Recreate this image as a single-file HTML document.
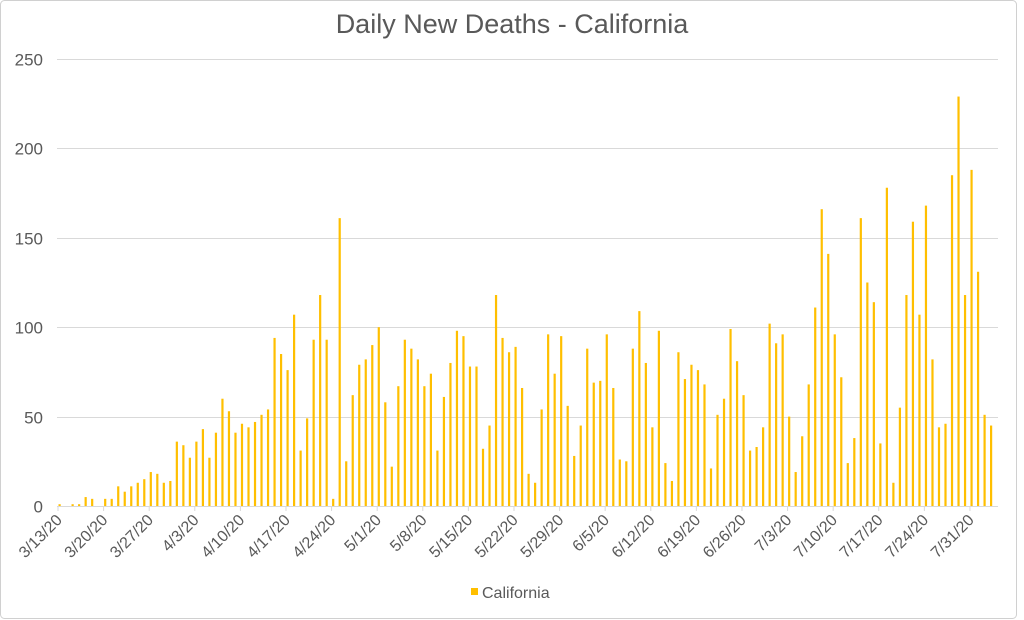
<!DOCTYPE html>
<html><head><meta charset="utf-8"><style>
html,body{margin:0;padding:0;background:#fff;}
svg{display:block;font-family:"Liberation Sans",sans-serif;}
</style></head><body>
<svg id="c" width="1024" height="620" xmlns="http://www.w3.org/2000/svg">
<rect x="0.5" y="0.5" width="1016" height="618" rx="4" fill="#fff" stroke="#d0d0d0"/>
<text x="512" y="33" text-anchor="middle" font-size="27" fill="#595959">Daily New Deaths - California</text>
<g id="grid" stroke="#d9d9d9" stroke-width="1"></g>
<g id="yl" font-size="17" fill="#595959" text-anchor="end"></g>
<g id="bars" fill="#FFBF00"></g>
<g id="xl" font-size="16" fill="#595959" text-anchor="end"></g>
<rect x="471" y="588" width="7" height="7" fill="#FFBF00"/>
<text x="482" y="598" font-size="16" fill="#595959">California</text>
</svg>
<script>
var ns="http://www.w3.org/2000/svg";
function el(t,a,p,txt){var e=document.createElementNS(ns,t);for(var k in a)e.setAttribute(k,a[k]);if(txt!=null)e.textContent=txt;document.getElementById(p).appendChild(e);return e;}
var y0=506,sc=1.788;
for(var v=0;v<=250;v+=50){var y=Math.round(y0-v*sc)+0.5;el('line',{x1:57,x2:998,y1:y,y2:y},'grid');el('text',{x:43,y:y+6},'yl',v);}
var d=[1,0,1,1,5,4,0,4,4,11,8,11,13,15,19,18,13,14,36,34,27,36,43,27,41,60,53,41,46,44,47,51,54,94,85,76,107,31,49,93,118,93,4,
161,25,62,79,82,90,100,58,22,67,93,88,82,67,74,31,61,80,98,95,78,78,32,45,118,94,86,89,66,18,13,54,96,74,95,56,28,45,88,69,70,96,66,26,25,88,109,80,44,98,24,
14,86,71,79,76,68,21,51,60,99,81,62,31,33,44,102,91,96,50,19,39,68,111,166,141,96,72,24,38,161,125,114,35,178,13,55,118,159,107,168,82,44,46,185,229,118,188,131,51,45];
var step=6.514,xs=58.5;
for(var i=0;i<d.length;i++){var x=xs+i*step;var h=d[i]*sc;if(h>0)el('rect',{x:x.toFixed(2),y:(y0-h).toFixed(2),width:2.2,height:h.toFixed(2)},'bars');}
var labs=['3/13/20','3/20/20','3/27/20','4/3/20','4/10/20','4/17/20','4/24/20','5/1/20','5/8/20','5/15/20','5/22/20','5/29/20','6/5/20','6/12/20','6/19/20','6/26/20','7/3/20','7/10/20','7/17/20','7/24/20','7/31/20'];
for(var j=0;j<labs.length;j++){var x=58+j*7*step;el('line',{x1:x,x2:x,y1:506,y2:511},'grid');
el('text',{x:x+5,y:521,transform:'rotate(-45 '+(x+5)+' 521)'},'xl',labs[j]);}
</script>
</body></html>
